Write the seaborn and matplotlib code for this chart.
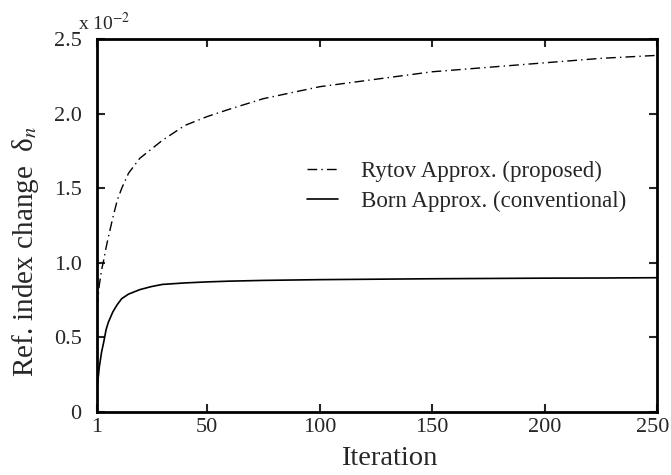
import numpy as np
import pandas as pd
import matplotlib.pyplot as plt
import matplotlib.transforms as mtransforms
import seaborn as sns

iterations = [1, 2, 3, 4, 5, 6, 8, 10, 12, 15, 20, 25, 30, 40, 50, 60, 75,
              100, 125, 150, 175, 200, 225, 250]
rytov = [0.70, 0.85, 0.95, 1.02, 1.10, 1.17, 1.30, 1.42, 1.50, 1.60, 1.70,
         1.76, 1.82, 1.92, 1.98, 2.03, 2.10, 2.18, 2.23, 2.28, 2.31, 2.34,
         2.37, 2.39]
born = [0.15, 0.30, 0.40, 0.47, 0.55, 0.60, 0.67, 0.72, 0.76, 0.79, 0.82,
        0.84, 0.855, 0.865, 0.872, 0.877, 0.882, 0.887, 0.89, 0.893, 0.895,
        0.897, 0.898, 0.90]
labels = ["Rytov Approx. (proposed)", "Born Approx. (conventional)"]
x_ticks = [1, 50, 100, 150, 200, 250]
y_ticks = [0, 0.5, 1.0, 1.5, 2.0, 2.5]
y_ticklabels = ["0", "0.5", "1.0", "1.5", "2.0", "2.5"]

sns.set_style("ticks")
plt.rcParams['font.family'] = ['Liberation Serif', 'DejaVu Serif']
plt.rcParams['mathtext.fontset'] = 'stix'

fig = plt.figure(figsize=(6.71, 4.75), dpi=100)
ax = fig.add_axes([0.1446, 0.1326, 0.8346, 0.7854])

sns.lineplot(x=iterations, y=rytov, ax=ax, color='black', linewidth=1.0,
             linestyle=(0, (7, 3, 1, 3)), label=labels[0])
sns.lineplot(x=iterations, y=born, ax=ax, color='black', linewidth=1.2,
             label=labels[1])

ax.set_xlim(1, 250)
ax.set_ylim(0, 2.5)
ax.set_xticks(x_ticks)
ax.set_yticks(y_ticks)
ax.set_yticklabels(y_ticklabels)
ax.tick_params(direction='in', length=6, width=1.5, labelsize=16,
               top=True, right=True)
ax.tick_params(axis='x', pad=4)
ax.tick_params(axis='y', pad=11)
for s in ax.spines.values():
    s.set_linewidth(2)
    s.set_color('black')

# nudge the last x tick label so it stays inside the figure
last = ax.get_xticklabels()[-1]
last.set_transform(last.get_transform() +
                   mtransforms.ScaledTranslation(-3 / 72, 0, fig.dpi_scale_trans))

ax.set_xlabel("Iteration", fontsize=20.5)
ax.set_ylabel("Ref. index change  δ$_{n}$", fontsize=21)
ax.xaxis.set_label_coords(0.521, -0.142)
ax.xaxis.label.set_verticalalignment('baseline')
ax.yaxis.set_label_coords(-0.128, 0.43)
ax.yaxis.label.set_verticalalignment('center')
ax.text(-0.034, 1.024, r"x 10$^{-2}$", transform=ax.transAxes, fontsize=14,
        ha='left', va='baseline')

ax.legend(loc='center left', bbox_to_anchor=(0.338, 0.605), frameon=False,
          fontsize=16.5, handlelength=1.35, handletextpad=1.0,
          labelspacing=0.38)

fig.savefig("out.png", dpi=100)
